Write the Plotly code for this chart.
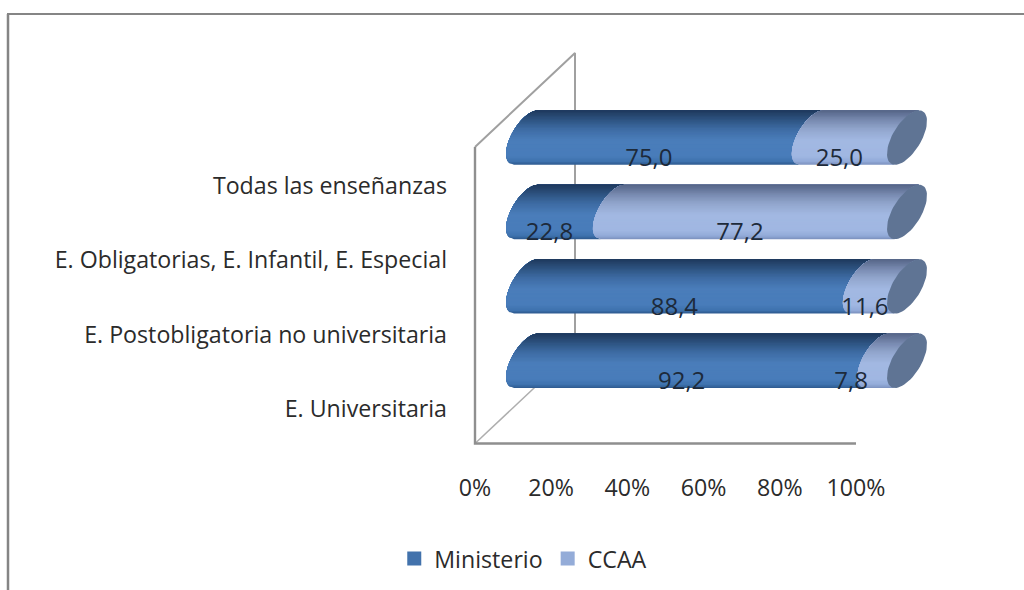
import numpy as np
import plotly.graph_objects as go

categories = ["E. Universitaria", "E. Postobligatoria no universitaria",
              "E. Obligatorias, E. Infantil, E. Especial", "Todas las enseñanzas"]
ministerio = [92.2, 88.4, 22.8, 75.0]
ccaa = [7.8, 11.6, 77.2, 25.0]
value_labels_m = ["92,2", "88,4", "22,8", "75,0"]
value_labels_c = ["7,8", "11,6", "77,2", "25,0"]
x_ticks = [0, 20, 40, 60, 80, 100]
x_ticktext = ["0%", "20%", "40%", "60%", "80%", "100%"]

W, H = 1024, 590
PXX = 3.81      # px per percent
X0 = 475        # px of 0%
PXY = 74.4      # px per category
Y0 = 409        # px of first category
xr = [(0 - X0) / PXX, (W - X0) / PXX]
yr = [(Y0 - H) / PXY, (Y0 - 0) / PXY]

# 3-D look, expressed in axis units
BAR_SHIFT = 31 / PXX          # bars sit part way into the depth
BOT, TOP = 21 / PXY, 75.5 / PXY
ELL_C = 20.0 / PXX            # ellipse centre from its left extreme
ELL_A = 16.0 / PXX
ELL_S = 12.0 / PXX
DEPTH_X, DEPTH_Y = 100 / PXX, 94 / PXY

# gradient stops: position from bar bottom (0) to top (1), rgb
stops_m = [(0.0, (44, 88, 140)), (0.06, (62, 114, 174)), (0.16, (72, 124, 186)), (0.45, (74, 125, 186)),
           (0.65, (62, 108, 164)), (0.82, (46, 84, 130)), (1.0, (30, 56, 92))]
stops_c = [(0.0, (122, 144, 188)), (0.06, (146, 170, 216)), (0.16, (160, 183, 226)), (0.45, (162, 184, 226)),
           (0.65, (146, 166, 205)), (0.82, (120, 138, 176)), (1.0, (84, 100, 134))]
N_BANDS = 40


def band_color(stops, t):
    ps = [s[0] for s in stops]
    rgb = [np.interp(t, ps, [s[1][k] for s in stops]) for k in range(3)]
    return "rgb(%d,%d,%d)" % tuple(int(round(c)) for c in rgb)


def edge_x(v, s):
    """left half of the slanted ellipse at percent v, s in -1 (bottom)..1 (top)"""
    cx = v + BAR_SHIFT + ELL_C
    return cx - ELL_A * np.sqrt(np.clip(1 - s * s, 0, 1)) + ELL_S * s


def band_poly(c, v0, v1, t0):
    ts = np.linspace(t0, 1, 24)
    ss = 2 * ts - 1
    ys = c + BOT + ts * (TOP - BOT)
    xs = list(edge_x(v0, ss)) + list(edge_x(v1, ss))[::-1]
    yy = list(ys) + list(ys)[::-1]
    return xs + [xs[0], None], yy + [yy[0], None]


fig = go.Figure()

# walls
wall = dict(mode="lines", hoverinfo="skip", showlegend=False)
ycat = lambda px: (Y0 - px) / PXY
FLOOR, WALL_TOP = ycat(443.5), ycat(147)
fig.add_trace(go.Scatter(x=[0, DEPTH_X], y=[FLOOR, FLOOR + DEPTH_Y],
                         line=dict(color="#aeaeae", width=1.5), **wall))
fig.add_trace(go.Scatter(x=[0, DEPTH_X, DEPTH_X], y=[WALL_TOP, WALL_TOP + DEPTH_Y, FLOOR + DEPTH_Y],
                         line=dict(color="#a0a0a0", width=2), **wall))
fig.add_trace(go.Scatter(x=[100, 0, 0], y=[FLOOR, FLOOR, WALL_TOP],
                         line=dict(color="#8f8f8f", width=2.4), **wall))

# stacked cylinders, drawn as gradient bands
for series, start_vals, width_vals, stops in (
        ("Ministerio", [0] * 4, ministerio, stops_m),
        ("CCAA", ministerio, ccaa, stops_c)):
    for b in range(N_BANDS):
        t0 = b / N_BANDS
        col = band_color(stops, t0 + 0.5 / N_BANDS)
        xs, ys = [], []
        for i in range(len(categories)):
            a, c = band_poly(i, start_vals[i], start_vals[i] + width_vals[i], t0)
            xs += a
            ys += c
        fig.add_trace(go.Scatter(x=xs, y=ys, mode="lines", fill="toself", fillcolor=col,
                                 line=dict(width=0, color=col), hoverinfo="skip", showlegend=False))

# end caps
phi = np.linspace(0, 2 * np.pi, 60)
xs, ys = [], []
for i in range(len(categories)):
    cx = 100 + BAR_SHIFT + ELL_C
    xs += list(cx + ELL_A * np.cos(phi) + ELL_S * np.sin(phi)) + [None]
    ys += list(i + (BOT + TOP) / 2 + (TOP - BOT) / 2 * np.sin(phi)) + [None]
fig.add_trace(go.Scatter(x=xs, y=ys, mode="lines", fill="toself", fillcolor="#5f7494",
                         line=dict(width=0, color="#5f7494"), hoverinfo="skip", showlegend=False))

# data labels
label_y = 26 / PXY
lab_font = dict(family="Open Sans", size=24, color="#1d2a3a")
x_m = [m / 2 + BAR_SHIFT for m in ministerio]
x_c = [m + c / 2 + BAR_SHIFT for m, c in zip(ministerio, ccaa)]
x_c[0] -= 5.5  # the narrowest label was nudged left in the original
rows = list(range(len(categories)))
fig.add_trace(go.Scatter(x=x_m, y=[r + label_y for r in rows], mode="text", text=value_labels_m,
                         textfont=lab_font, showlegend=False, hoverinfo="skip"))
fig.add_trace(go.Scatter(x=x_c, y=[r + label_y for r in rows], mode="text", text=value_labels_c,
                         textfont=lab_font, showlegend=False, hoverinfo="skip"))

# legend entries
for name, col in (("Ministerio", "#4272ac"), ("CCAA", "#94acd8")):
    fig.add_trace(go.Scatter(x=[None], y=[None], mode="markers", name=name,
                             marker=dict(symbol="square", size=14, color=col)))

axis_font = dict(family="Open Sans", size=23.2, color="#2b2b2b")
fig.update_layout(
    width=W, height=H, autosize=False,
    margin=dict(l=0, r=0, t=0, b=0),
    paper_bgcolor="white", plot_bgcolor="white",
    xaxis=dict(range=xr, domain=[0, 1], anchor="free", position=1 - 472 / H, side="bottom",
               tickmode="array", tickvals=x_ticks, ticktext=x_ticktext,
               showgrid=False, zeroline=False, showline=False, ticks="", tickfont=axis_font),
    yaxis=dict(range=yr, domain=[0, 1], anchor="free", position=447 / W, side="left",
               tickmode="array", tickvals=rows, ticktext=categories,
               showgrid=False, zeroline=False, showline=False, ticks="", tickfont=axis_font),
    legend=dict(orientation="h", x=0.511, xanchor="center", y=1 - 559 / H, yanchor="middle",
                font=axis_font, bgcolor="rgba(0,0,0,0)", itemwidth=30, tracegroupgap=0),
    shapes=[dict(type="line", xref="paper", yref="paper", x0=8 / W, x1=8 / W, y0=0, y1=1 - 14 / H,
                 line=dict(color="#858585", width=2.5)),
            dict(type="line", xref="paper", yref="paper", x0=7 / W, x1=1, y0=1 - 14 / H, y1=1 - 14 / H,
                 line=dict(color="#858585", width=2))],
)
fig.write_html("out.html", config={"displayModeBar": False},
               post_script="document.body.style.margin='0';")
